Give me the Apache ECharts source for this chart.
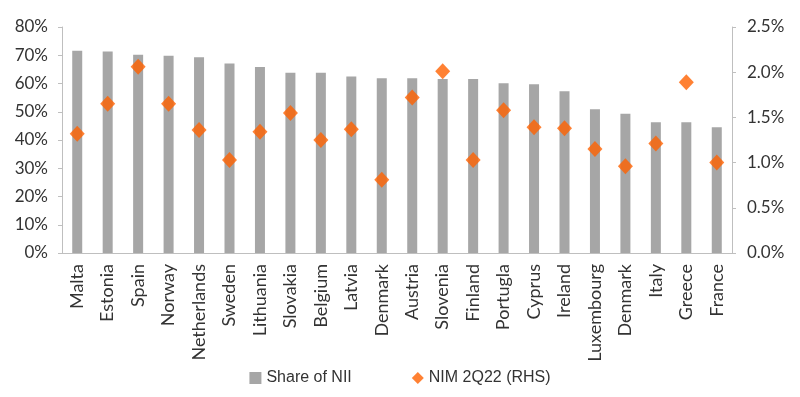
<!DOCTYPE html>
<html>
<head>
<meta charset="utf-8">
<script src="https://cdn.jsdelivr.net/npm/echarts@6/dist/echarts.min.js"></script>
<style>
  html, body { margin: 0; padding: 0; background: #fff; }
  #chart { width: 800px; height: 397px; }
</style>
</head>
<body>
<div id="chart"></div>
<script>
const countries = ['Malta', 'Estonia', 'Spain', 'Norway', 'Netherlands', 'Sweden', 'Lithuania',
  'Slovakia', 'Belgium', 'Latvia', 'Denmark', 'Austria', 'Slovenia', 'Finland', 'Portugla',
  'Cyprus', 'Ireland', 'Luxembourg', 'Denmark', 'Italy', 'Greece', 'France'];
// share of NII, %
const shareNII = [71.6, 71.3, 70.2, 69.8, 69.3, 67.1, 65.8, 63.8, 63.8, 62.5, 61.9,
  61.9, 61.6, 61.6, 60.1, 59.7, 57.3, 50.9, 49.3, 46.3, 46.3, 44.5];
// NIM 2Q22, % (right axis)
const nim = [1.32, 1.65, 2.06, 1.65, 1.36, 1.03, 1.34, 1.55, 1.25, 1.37, 0.81,
  1.72, 2.01, 1.03, 1.58, 1.39, 1.38, 1.15, 0.96, 1.21, 1.89, 1.0];

const font = 'Lato, "Noto Sans", sans-serif';
const axisGrey = '#bfbfbf';

const chart = echarts.init(document.getElementById('chart'));
chart.setOption({
  animation: false,
  grid: { left: 62, right: 68, top: 27, bottom: 144 },
  legend: {
    bottom: 6,
    left: 'center',
    itemGap: 60,
    itemWidth: 12,
    itemHeight: 12,
    textStyle: { fontFamily: '"Liberation Sans Narrow", "Liberation Sans", sans-serif', fontSize: 16, color: '#333' },
    data: [
      { name: 'Share of NII', icon: 'rect' },
      { name: 'NIM 2Q22 (RHS)', icon: 'diamond' }
    ]
  },
  xAxis: {
    type: 'category',
    data: countries,
    axisLine: { lineStyle: { color: axisGrey } },
    axisTick: { alignWithLabel: false, length: 8, lineStyle: { color: axisGrey } },
    axisLabel: { rotate: 90, interval: 0, margin: 11, fontFamily: font, fontSize: 18, color: '#333' }
  },
  yAxis: [
    {
      type: 'value', min: 0, max: 80, interval: 10,
      splitLine: { show: false },
      axisLine: { show: true, lineStyle: { color: axisGrey } },
      axisTick: { show: true, length: 4, lineStyle: { color: axisGrey } },
      axisLabel: { formatter: '{value}%', fontFamily: font, fontSize: 17, color: '#333', margin: 14 }
    },
    {
      type: 'value', min: 0, max: 2.5, interval: 0.5,
      splitLine: { show: false },
      axisLine: { show: true, lineStyle: { color: axisGrey } },
      axisTick: { show: true, length: 4, lineStyle: { color: axisGrey } },
      axisLabel: { formatter: v => v.toFixed(1) + '%', fontFamily: font, fontSize: 17, color: '#333', margin: 15 }
    }
  ],
  series: [
    {
      name: 'Share of NII',
      type: 'bar',
      barWidth: 10,
      itemStyle: { color: '#a6a6a6' },
      data: shareNII
    },
    {
      name: 'NIM 2Q22 (RHS)',
      type: 'scatter',
      yAxisIndex: 1,
      symbol: 'diamond',
      symbolSize: [15, 16],
      itemStyle: { color: '#ff6200' },
      data: nim
    }
  ]
});
</script>
</body>
</html>
